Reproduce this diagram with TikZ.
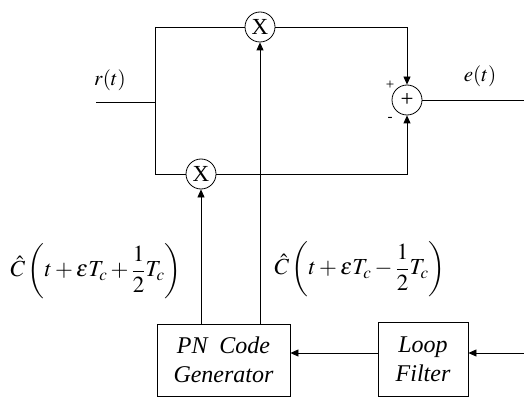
\documentclass[tikz,border=0pt]{standalone}
\usepackage{amsmath}
\usepackage{mathptmx}
\usepackage{fontspec}
\setmainfont{Liberation Serif}
\usetikzlibrary{arrows.meta}

\begin{document}
\begin{tikzpicture}[
    x=1pt, y=-1pt,
    mult/.style={circle, draw, minimum size=30pt, inner sep=0pt, font=\fontsize{23}{23}\selectfont},
    block/.style={draw, minimum width=133pt, minimum height=72pt, align=center, font=\fontsize{24}{29}\selectfont\itshape},
    lbl/.style={font=\fontsize{21}{24}\selectfont},
    mlbl/.style={font=\fontsize{23}{26}\selectfont},
    sgn/.style={font=\fontsize{15}{15}\selectfont},
    >={Triangle[length=8pt, width=7pt]},
    line width=0.8pt
]
\useasboundingbox (0,0) rectangle (524,398);

% --- Multipliers and summer ---
\node[mult] (mtop) at (260,27) {X};
\node[mult] (mbot) at (201,174) {X};
\node[mult] (sum) at (407,100) {+};

% --- Blocks ---
\node[block] (pn) at (223.5,360) {PN\ \ Code\\Generator};
\node[block, minimum width=90pt, minimum height=74pt] (lf) at (423,359) {Loop\\Filter};

% --- Corner points ---
\coordinate (in) at (96,102);
\coordinate (split) at (155,102);
\coordinate (tl) at (155,27);
\coordinate (bl) at (155,174);
\coordinate (tr) at (407,27);
\coordinate (br) at (407,174);
\coordinate (out) at (524,100);
\coordinate (ext) at (524,353);

% --- Signal paths ---
\draw (in) -- (split);
\draw (tl) -- (bl);
\draw (tl) -- (mtop.west);
\draw[->] (mtop.east) -- (tr) -- (sum.north);
\draw (bl) -- (mbot.west);
\draw[->] (mbot.east) -- (br) -- (sum.south);
\draw (sum.east) -- (out);

% --- Code lines from generator ---
\draw[->] (pn.north -| mbot) -- (mbot.south);
\draw[->] (pn.north -| mtop) -- (mtop.south);
\draw[->] (lf.west |- ext) -- (pn.east |- ext);
\draw[->] (ext) -- (lf.east |- ext);

% --- Labels ---
\node[lbl] (rlbl) at (110,80) {$r(t)$};
\node[lbl] (elbl) at (480,76) {$e(t)$};
\node[sgn] (plus) at (390,85) {+};
\node[sgn] (minus) at (390,119) {-};
\node[mlbl] (cearly) at (96,271) {$\hat{C}\left(t+\varepsilon T_c+\dfrac{1}{2}T_c\right)$};
\node[mlbl] (clate) at (360,269) {$\hat{C}\left(t+\varepsilon T_c-\dfrac{1}{2}T_c\right)$};

\end{tikzpicture}
\end{document}
